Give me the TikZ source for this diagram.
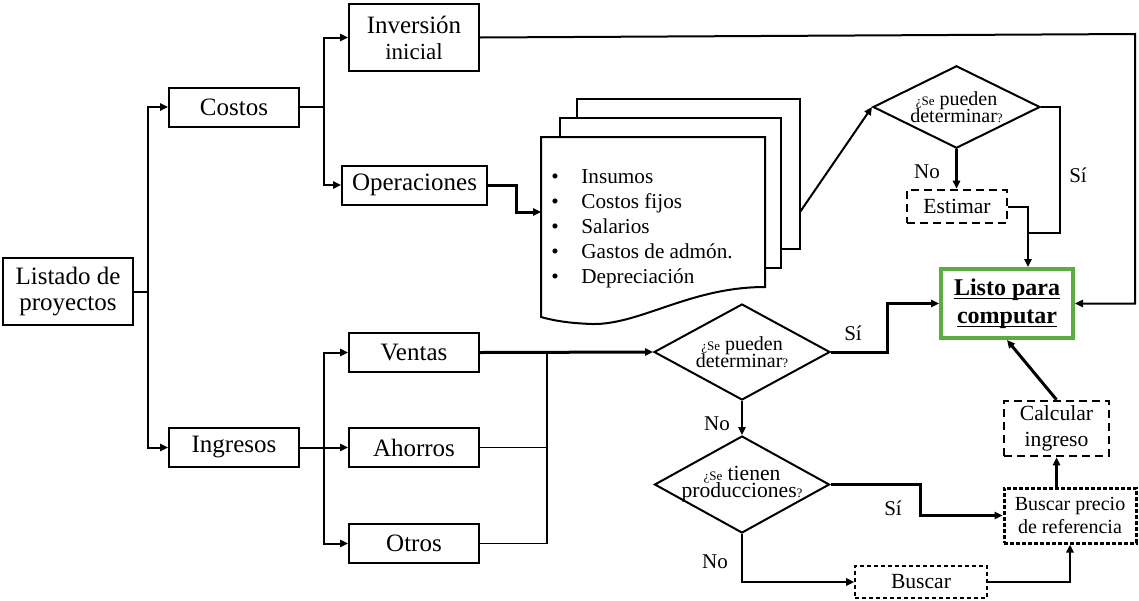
\documentclass[tikz,border=0pt]{standalone}
\usepackage{fontspec}
\setmainfont{Liberation Serif}
\usetikzlibrary{arrows.meta,positioning,calc,shapes.geometric}
\definecolor{okgreen}{RGB}{92,172,62}
\newcommand{\qs}[1]{{\fontsize{6.5}{6.5}\selectfont #1}}
\newcommand{\bulx}{\makebox[15pt][l]{\textbullet}}
\newcommand{\tightls}{\lineskiplimit=-20pt\relax}
\newcommand{\ulx}[1]{{\setbox0\hbox{#1}\rlap{\rule[-2pt]{\wd0}{0.8pt}}\box0}}
\tikzset{
  box/.style={draw, line width=1pt, minimum width=65pt, minimum height=19.5pt, inner sep=1pt,
    align=center, font=\fontsize{12.5}{13}\selectfont},
  dbox/.style={box, dash pattern=on 4pt off 2.5pt, line width=1.3pt, font=\fontsize{10.8}{13}\selectfont},
  lbox/.style={draw=okgreen, line width=2pt, minimum width=66pt, minimum height=34.5pt, inner sep=1pt,
    align=center, font=\fontsize{12}{14}\selectfont\bfseries},
  dec/.style={diamond, draw, line width=1pt, aspect=1.8, inner sep=0pt, align=center,
    font=\fontsize{10}{8.5}\selectfont\tightls},
  doc/.style={draw, fill=white, line width=1pt},
  lab/.style={font=\fontsize{10.5}{12}\selectfont},
  arr/.style={-{Triangle[length=4pt,width=3.6pt]}, line width=1pt},
  tarr/.style={arr, line width=1.5pt},
}
\begin{document}
\begin{tikzpicture}[x=0.5pt,y=-0.5pt]
\useasboundingbox (0,0) rectangle (1139,600);
% tree on the left
\node[box, minimum height=33.5pt] (lst) at (68,291.5) {Listado de\\proyectos};
\node[box] (cos) at (234,107) {Costos};
\node[box] (ing) at (234,447.5) {Ingresos};
\node[box, minimum height=33.5pt] (inv) at (414,37.5) {Inversión\\{\fontsize{11.5}{12.5}\selectfont inicial}};
\node[box, minimum width=72.5pt] (ope) at (414.5,185) {Operaciones};
\node[box] (ven) at (414,352.5) {Ventas};
\node[box] (aho) at (414,447.5) {Ahorros};
\node[box] (otr) at (414,543.5) {Otros};

\draw[line width=1pt] (lst.east) -- ++(14,0) coordinate (t0);
\draw[arr] (t0) |- (cos.west);
\draw[arr] (t0) |- (ing.west);
\draw[line width=1pt] (cos.east) -- ++(24,0) coordinate (t1);
\draw[arr] (t1) |- (inv.west);
\draw[arr] (t1) |- (ope.west);
\draw[line width=1pt] (ing.east) -- ++(24,0) coordinate (t2);
\draw[arr] (t2) |- (ven.west);
\draw[arr] (t2) -- (aho.west);
\draw[arr] (t2) |- (otr.west);

% stack of documents
\draw[doc] (577,99) rectangle (800,249);
\draw[doc] (560,118) rectangle (781,268);
\draw[doc] (541,137) -- (765,137) -- (765,287)
  .. controls (690,287) and (640,325) .. (592,324)
  .. controls (565,323) and (552,320) .. (541,317) -- cycle;
\node[font=\fontsize{10.6}{12.5}\selectfont, align=left, anchor=west, inner sep=0pt] (itm) at (551,229)
  {\bulx Insumos\\\bulx Costos fijos\\\bulx Salarios\\\bulx Gastos de admón.\\\bulx Depreciación};
\coordinate (docin) at (541,212);
\coordinate (docout) at (800,212);
\draw[tarr] (ope.east) -- ++(28,0) |- (docin);

% decisions
\node[dec, minimum width=83.5pt, minimum height=41pt] (dq1) at (956.5,107) {\qs{¿Se} pueden\\determinar\qs{?}};
\node[dbox, minimum width=50pt, minimum height=16.5pt] (est) at (957,206.5) {Estimar};
\node[lbox] (lis) at (1007,303.5) {\ulx{Listo para}\\\ulx{computar}};
\node[dec, minimum width=88pt, minimum height=48pt] (dq2) at (742,352) {\qs{¿Se} pueden\\determinar\qs{?}};
\node[dec, minimum width=87.5pt, minimum height=48.5pt, font=\fontsize{10.8}{8.5}\selectfont\tightls] (dq3) at (742,484.5)
  {\makebox[40pt]{\qs{¿Se} tienen}\\\makebox[40pt]{producciones\qs{?}}};
\node[dbox, minimum width=52.5pt, minimum height=27.5pt] (cal) at (1056.5,428.5) {Calcular\\ingreso};
\node[dbox, dash pattern=on 2pt off 1pt, line width=1.5pt, minimum width=66pt, minimum height=27.5pt,
  font=\fontsize{10}{11.5}\selectfont] (bpr) at (1070,515.5) {Buscar precio\\de referencia};
\node[dbox, dash pattern=on 2.2pt off 1.3pt, line width=0.8pt, minimum width=66pt, minimum height=16pt] (fnd) at (921,582) {Buscar};

\draw[arr] (docout) -- (dq1.west);
\draw[tarr] (dq1.south) -- (dq1.south |- est.north);
\coordinate (j1) at (1028,233);
\draw[line width=1pt] (dq1.east) -- ++(19,0) |- (j1);
\draw[arr] (est.east) -| (lis.north -| j1);
\coordinate (c1) at (1135,34);
\draw[arr] (inv.east) -- (c1) |- (lis.east);

\coordinate (bus) at (547,352.5);
\draw[tarr] (ven.east) -- (dq2.west);
\draw[line width=0.8pt] (aho.east) -- (aho.east -| bus);
\draw[line width=0.8pt] (otr.east) -| (bus);
\draw[tarr] (dq2.east) -- ++(56,0) |- (lis.west);
\draw[arr] (dq2.south) -- (dq3.north);
\draw[tarr] (dq3.east) -- ++(90,0) |- (bpr.west);
\draw[arr] (dq3.south) |- (fnd.west);
\draw[arr] (fnd.east) -| (bpr.south);
\draw[tarr] (cal.south |- bpr.north) -- (cal.south);
\draw[tarr] (cal.north) -- (lis.south);

\node[lab] (no1) at (927,172) {No};
\node[lab] (si1) at (1078,175) {Sí};
\node[lab] (si2) at (853,333) {Sí};
\node[lab] (no2) at (717,424) {No};
\node[lab] (si3) at (893,508) {Sí};
\node[lab] (no3) at (715,562) {No};
\end{tikzpicture}
\end{document}
